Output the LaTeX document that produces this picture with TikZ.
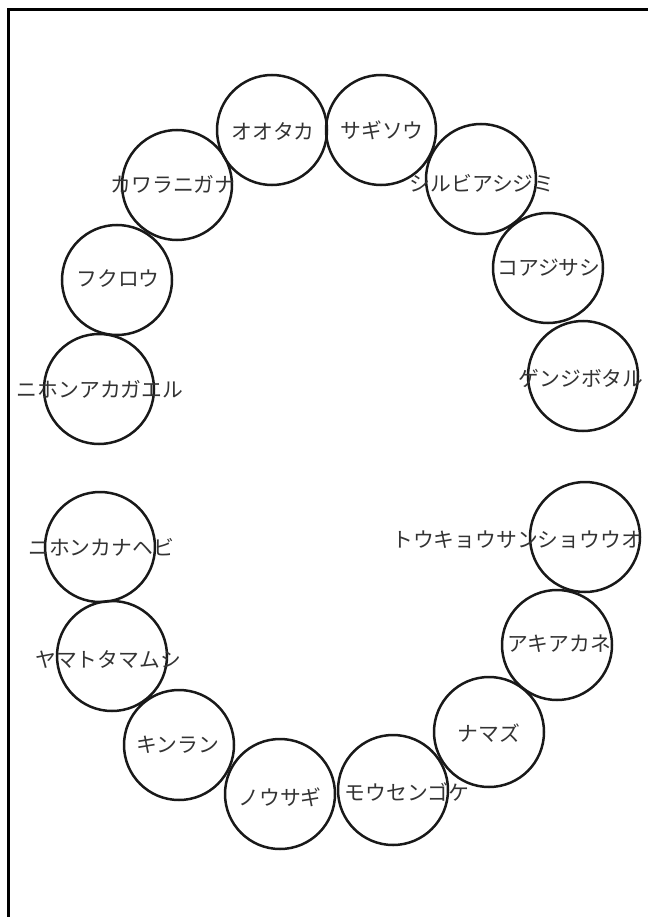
\documentclass[tikz,border=0pt]{standalone}
\usepackage{fontspec}
\setmainfont{Noto Sans CJK JP}
\begin{document}
\begin{tikzpicture}[x=1pt,y=-1pt,
  ring/.style={draw=black!90,line width=2.5pt,circle,minimum size=110pt,inner sep=0pt},
  spname/.style={text=black!80,inner sep=0pt,font=\fontsize{20.8pt}{24pt}\selectfont}]
\useasboundingbox (0,0) rectangle (647,917) ;
\draw[line width=3pt] (8,930) -- (8,10) -- (660,10) ;
 \node[ring] (ootaka)    at (         272,         130) {} ;
\node[ring] (sagisou)    at (         381,         130) {} ;
\node[ring] (kawara)     at (         177,         185) {} ;
\node[ring] (shirubia)   at (         481,         179) {} ;
\node[ring] (fukurou)    at (         117,         280) {} ;
\node[ring] (koajisashi) at (         548,         268) {} ;
\node[ring] (akagaeru)   at (          99,         389) {} ;
\node[ring] (genji)      at (         583,         376) {} ;
 \node[ring] (kanahebi)  at (         100,         547) {} ;
\node[ring] (tamamushi)  at (         112,         656) {} ;
\node[ring] (kinran)     at (         179,         745) {} ;
\node[ring] (nousagi)    at (         280,         794) {} ;
\node[ring] (mousen)     at (         393,         790) {} ;
\node[ring] (namazu)     at (         489,         732) {} ;
\node[ring] (akiakane)   at (         557,         645) {} ;
\node[ring] (sanshouuo)  at (         585,         537) {} ;
 \node[spname] (ootaka-t)     at (         273,         131) {オオタカ} ;
\node[spname] (sagisou-t)     at (         382,         130) {サギソウ} ;
\node[spname] (kawara-t)      at (         173,         184) {カワラニガナ} ;
\node[spname] (shirubia-t)    at (         482,         183) {シルビアシジミ} ;
\node[spname] (fukurou-t)     at (         118,         279) {フクロウ} ;
\node[spname] (koajisashi-t)  at (         549,         268) {コアジサシ} ;
\node[spname] (akagaeru-t)    at (         100,         389) {ニホンアカガエル} ;
\node[spname] (genji-t)       at (         581,         378) {ゲンジボタル} ;
 \node[spname] (kanahebi-t)   at (         101,         547) {ニホンカナヘビ} ;
\node[spname] (tamamushi-t)   at (         108,         659) {ヤマトタマムシ} ;
\node[spname] (kinran-t)      at (         178,         745) {キンラン} ;
\node[spname] (nousagi-t)     at (         280,         797) {ノウサギ} ;
\node[spname] (mousen-t)      at (         407,         792) {モウセンゴケ} ;
\node[spname] (namazu-t)      at (         489,         733) {ナマズ} ;
\node[spname] (akiakane-t)    at (         559,         644) {アキアカネ} ;
\node[spname] (sanshouuo-t)   at (         517,         540) {トウキョウサンショウウオ} ;
\end{tikzpicture}
\end{document}
